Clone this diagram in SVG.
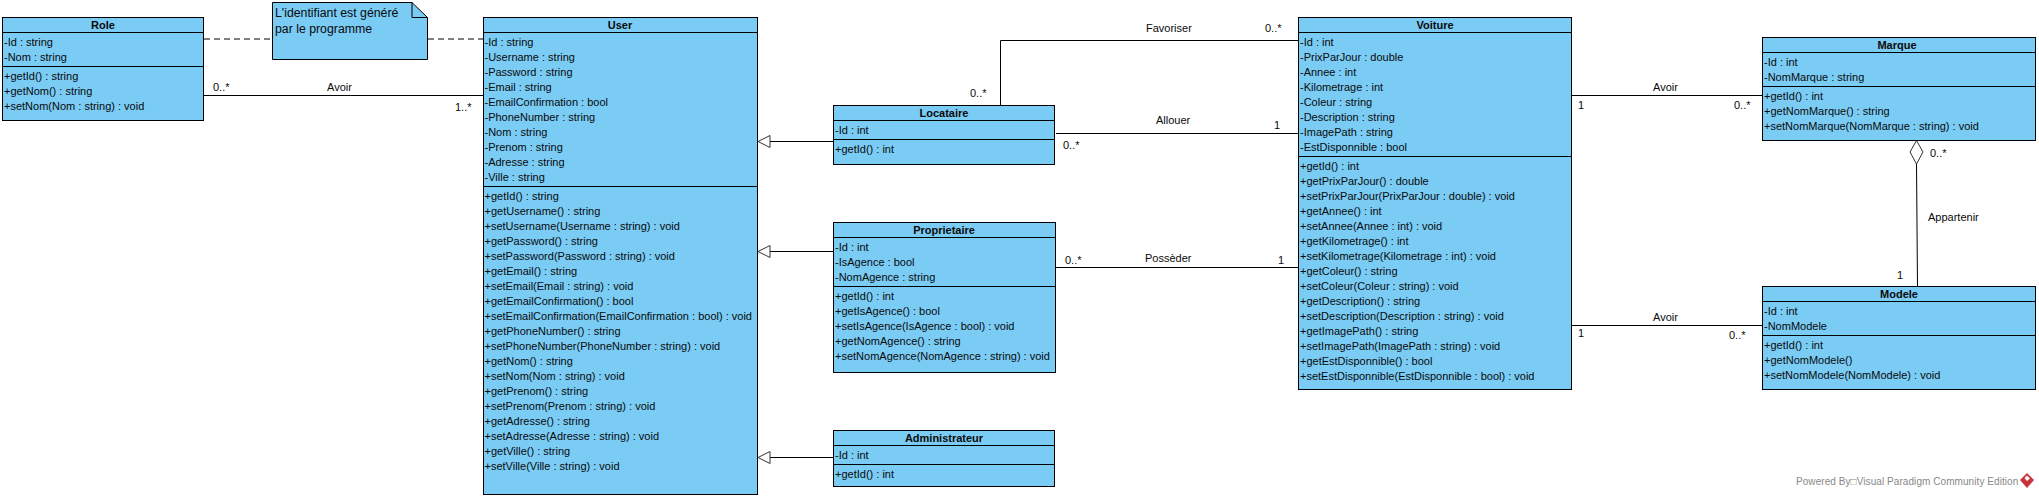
<svg xmlns="http://www.w3.org/2000/svg" width="2039" height="498" viewBox="0 0 2039 498">
<style>
text{font-family:"Liberation Sans",Arial,sans-serif;font-size:11px;fill:#0a0a0a}
.t{font-weight:bold;text-anchor:middle}
.b{fill:#7accf5;stroke:#000;stroke-width:1}
.d{stroke:#000;stroke-width:1;fill:none}
.c{stroke:#000;stroke-width:1;fill:none}
.h{stroke:#333;stroke-width:1;fill:#fff}
.n{font-size:12.3px}
</style>
<rect width="2039" height="498" fill="#fff"/>
<g id="connectors">
<path class="c" d="M204 39H272M428 39H483" stroke-dasharray="6 4"/>
<path class="c" d="M204 95.500H483M1000.500 105V40.500H1298M1056 133.500H1298M1056 267.500H1298M770 141.500H833M770 251.500H833M770 457.500H833M1571 95.500H1762M1571 325.500H1762M1916.500 164L1917.500 286"/>
<path class="h" d="M770 135.500L758 141.500L770 147.500Z"/>
<path class="h" d="M770 245.500L758 251.500L770 257.500Z"/>
<path class="h" d="M770 451.500L758 457.500L770 463.500Z"/>
<path class="h" d="M1916.500 140.500L1923 152L1916.500 164L1910 152Z"/>
<text x="213" y="91">0..*</text><text x="327" y="91">Avoir</text><text x="455" y="111">1..*</text>
<text x="970" y="97">0..*</text><text x="1146" y="32">Favoriser</text><text x="1265" y="32">0..*</text>
<text x="1063" y="149">0..*</text><text x="1156" y="124">Allouer</text><text x="1274" y="129">1</text>
<text x="1065" y="264">0..*</text><text x="1145" y="262">Possèder</text><text x="1278" y="264">1</text>
<text x="1578" y="109">1</text><text x="1653" y="91">Avoir</text><text x="1734" y="109">0..*</text>
<text x="1578" y="337">1</text><text x="1653" y="321">Avoir</text><text x="1729" y="339">0..*</text>
<text x="1930" y="157">0..*</text><text x="1928" y="221">Appartenir</text><text x="1897" y="279">1</text>
</g>
<g id="note">
<path class="b" d="M272.500 2.500H412L427.500 17.500V59.500H272.500Z"/>
<path class="d" d="M412 2.500V17.500H427.500"/>
<text class="n" x="275" y="17">L'identifiant est généré</text>
<text class="n" x="275" y="33">par le programme</text>
</g>
<g id="role">
<rect class="b" x="2.500" y="17.500" width="201" height="103"/>
<path class="d" d="M2.500 32.500H203.500M2.500 66.500H203.500"/>
<text class="t" x="103" y="29">Role</text>
<text x="4" y="46">-Id : string</text><text x="4" y="61">-Nom : string</text>
<text x="4" y="80">+getId() : string</text><text x="4" y="95">+getNom() : string</text><text x="4" y="110">+setNom(Nom : string) : void</text>
</g>
<g id="user">
<rect class="b" x="483.500" y="17.500" width="274" height="477"/>
<path class="d" d="M483.500 32.500H757.500M483.500 186.500H757.500"/>
<text class="t" x="620" y="29">User</text>
<text x="484.500" y="46">-Id : string</text><text x="484.500" y="61">-Username : string</text><text x="484.500" y="76">-Password : string</text><text x="484.500" y="91">-Email : string</text><text x="484.500" y="106">-EmailConfirmation : bool</text><text x="484.500" y="121">-PhoneNumber : string</text><text x="484.500" y="136">-Nom : string</text><text x="484.500" y="151">-Prenom : string</text><text x="484.500" y="166">-Adresse : string</text><text x="484.500" y="181">-Ville : string</text>
<text x="484.500" y="200">+getId() : string</text><text x="484.500" y="215">+getUsername() : string</text><text x="484.500" y="230">+setUsername(Username : string) : void</text><text x="484.500" y="245">+getPassword() : string</text><text x="484.500" y="260">+setPassword(Password : string) : void</text><text x="484.500" y="275">+getEmail() : string</text><text x="484.500" y="290">+setEmail(Email : string) : void</text><text x="484.500" y="305">+getEmailConfirmation() : bool</text><text x="484.500" y="320">+setEmailConfirmation(EmailConfirmation : bool) : void</text><text x="484.500" y="335">+getPhoneNumber() : string</text><text x="484.500" y="350">+setPhoneNumber(PhoneNumber : string) : void</text><text x="484.500" y="365">+getNom() : string</text><text x="484.500" y="380">+setNom(Nom : string) : void</text><text x="484.500" y="395">+getPrenom() : string</text><text x="484.500" y="410">+setPrenom(Prenom : string) : void</text><text x="484.500" y="425">+getAdresse() : string</text><text x="484.500" y="440">+setAdresse(Adresse : string) : void</text><text x="484.500" y="455">+getVille() : string</text><text x="484.500" y="470">+setVille(Ville : string) : void</text>
</g>
<g id="locataire">
<rect class="b" x="833.500" y="105.500" width="221" height="59"/>
<path class="d" d="M833.500 120.500H1054.500M833.500 139.500H1054.500"/>
<text class="t" x="944" y="117">Locataire</text>
<text x="835" y="134">-Id : int</text>
<text x="835" y="153">+getId() : int</text>
</g>
<g id="proprietaire">
<rect class="b" x="833.500" y="222.500" width="222" height="150"/>
<path class="d" d="M833.500 237.500H1055.500M833.500 286.500H1055.500"/>
<text class="t" x="944" y="234">Proprietaire</text>
<text x="835" y="251">-Id : int</text><text x="835" y="266">-IsAgence : bool</text><text x="835" y="281">-NomAgence : string</text>
<text x="835" y="300">+getId() : int</text><text x="835" y="315">+getIsAgence() : bool</text><text x="835" y="330">+setIsAgence(IsAgence : bool) : void</text><text x="835" y="345">+getNomAgence() : string</text><text x="835" y="360">+setNomAgence(NomAgence : string) : void</text>
</g>
<g id="administrateur">
<rect class="b" x="833.500" y="430.500" width="221" height="56"/>
<path class="d" d="M833.500 445.500H1054.500M833.500 464.500H1054.500"/>
<text class="t" x="944" y="442">Administrateur</text>
<text x="835" y="459">-Id : int</text>
<text x="835" y="478">+getId() : int</text>
</g>
<g id="voiture">
<rect class="b" x="1298.500" y="17.500" width="273" height="372"/>
<path class="d" d="M1298.500 32.500H1571.500M1298.500 156.500H1571.500"/>
<text class="t" x="1435" y="29">Voiture</text>
<text x="1300" y="46">-Id : int</text><text x="1300" y="61">-PrixParJour : double</text><text x="1300" y="76">-Annee : int</text><text x="1300" y="91">-Kilometrage : int</text><text x="1300" y="106">-Coleur : string</text><text x="1300" y="121">-Description : string</text><text x="1300" y="136">-ImagePath : string</text><text x="1300" y="151">-EstDisponnible : bool</text>
<text x="1300" y="170">+getId() : int</text><text x="1300" y="185">+getPrixParJour() : double</text><text x="1300" y="200">+setPrixParJour(PrixParJour : double) : void</text><text x="1300" y="215">+getAnnee() : int</text><text x="1300" y="230">+setAnnee(Annee : int) : void</text><text x="1300" y="245">+getKilometrage() : int</text><text x="1300" y="260">+setKilometrage(Kilometrage : int) : void</text><text x="1300" y="275">+getColeur() : string</text><text x="1300" y="290">+setColeur(Coleur : string) : void</text><text x="1300" y="305">+getDescription() : string</text><text x="1300" y="320">+setDescription(Description : string) : void</text><text x="1300" y="335">+getImagePath() : string</text><text x="1300" y="350">+setImagePath(ImagePath : string) : void</text><text x="1300" y="365">+getEstDisponnible() : bool</text><text x="1300" y="380">+setEstDisponnible(EstDisponnible : bool) : void</text>
</g>
<g id="marque">
<rect class="b" x="1762.500" y="37.500" width="273" height="103"/>
<path class="d" d="M1762.500 52.500H2035.500M1762.500 86.500H2035.500"/>
<text class="t" x="1897" y="49">Marque</text>
<text x="1764" y="66">-Id : int</text><text x="1764" y="81">-NomMarque : string</text>
<text x="1764" y="100">+getId() : int</text><text x="1764" y="115">+getNomMarque() : string</text><text x="1764" y="130">+setNomMarque(NomMarque : string) : void</text>
</g>
<g id="modele">
<rect class="b" x="1762.500" y="286.500" width="273" height="103"/>
<path class="d" d="M1762.500 301.500H2035.500M1762.500 335.500H2035.500"/>
<text class="t" x="1899" y="298">Modele</text>
<text x="1764" y="315">-Id : int</text><text x="1764" y="330">-NomModele</text>
<text x="1764" y="349">+getId() : int</text><text x="1764" y="364">+getNomModele()</text><text x="1764" y="379">+setNomModele(NomModele) : void</text>
</g>
<g id="watermark">
<text x="1796" y="485" style="font-size:10px;fill:#888;letter-spacing:.07px">Powered By□Visual Paradigm Community Edition</text>
<path d="M2027 473L2034 480L2027 488L2020 480Z" fill="#c9333a"/>
<path d="M2024.500 478L2027 475.500L2030 478.500L2027 481Z" fill="#fff"/>
</g>
</svg>
